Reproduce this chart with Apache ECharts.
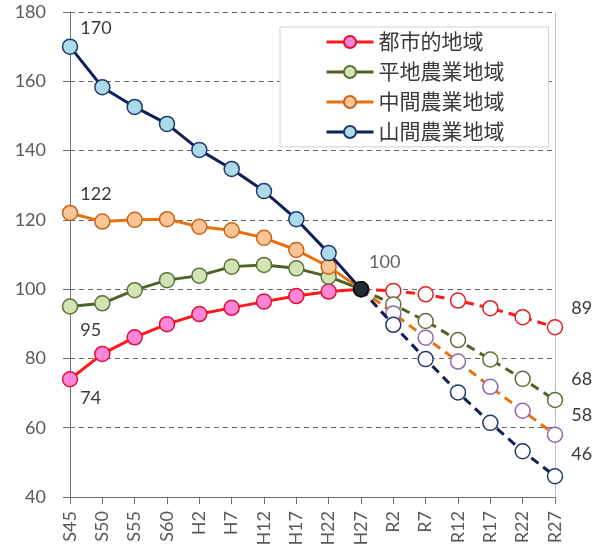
<!DOCTYPE html>
<html>
<head>
<meta charset="utf-8">
<script src="https://cdn.jsdelivr.net/npm/echarts@6/dist/echarts.min.js"></script>
<style>
  html, body { margin: 0; padding: 0; background: #fff; }
  #chart { width: 594px; height: 549px; }
</style>
</head>
<body>
<div id="chart"></div>
<script>
// Population index by region type (H27 = 100), actual and projected
const categories = ['S45','S50','S55','S60','H2','H7','H12','H17','H22','H27','R2','R7','R12','R17','R22','R27'];
const yTicks = { min: 40, max: 180, interval: 20 };

const regionNames = ['都市的地域', '平地農業地域', '中間農業地域', '山間農業地域'];

// S45 .. H27 (actual)
const urbanActual    = [74, 81.3, 86.1, 89.9, 92.8, 94.6, 96.4, 98.0, 99.3, 100];
const flatActual     = [95, 95.9, 99.7, 102.6, 103.9, 106.5, 107.0, 106.0, 103.6, 100];
const middleActual   = [122, 119.5, 120.0, 120.2, 118.0, 117.0, 114.8, 111.3, 106.5, 100];
const mountainActual = [170, 158.3, 152.6, 147.7, 140.2, 134.7, 128.3, 120.2, 110.4, 100];

// H27 .. R27 (projected)
const urbanProj    = [100, 99.5, 98.5, 96.7, 94.5, 91.9, 89];
const flatProj     = [100, 95.6, 90.8, 85.3, 79.7, 74.1, 68];
const middleProj   = [100, 93.0, 86.0, 79.1, 71.8, 64.9, 58];
const mountainProj = [100, 89.7, 79.8, 70.2, 61.4, 53.2, 46];

const baseYear = 'H27';
const baseValue = 100;

const FONT = 'Lato, "Noto Sans CJK JP", sans-serif';
const TEXT = '#3a3a3a';

const styles = [
  { line: '#FF1A1A', fill: '#FF85D8', edge: '#E0103A', projEdge: '#E02020' },
  { line: '#4F6228', fill: '#D4E3B5', edge: '#5B7335', projEdge: '#5B7335' },
  { line: '#E8700F', fill: '#FAC495', edge: '#C9651A', projEdge: '#8E6BB0' },
  { line: '#0F1F57', fill: '#ADDAE8', edge: '#1F3A6E', projEdge: '#1F3A6E' }
];

const actualSets = [urbanActual, flatActual, middleActual, mountainActual];
const projSets = [urbanProj, flatProj, middleProj, mountainProj];

// per-series label offsets for the first (S45) and last (R27) points
const firstLabelDy = [19, 24, -19, -18];
const lastLabelDy = [-19, -21, -19, -22];

const baseIdx = categories.indexOf(baseYear);
const nCat = categories.length;

function labelFor(dy, distance) {
  return {
    show: true,
    position: 'right',
    distance: distance,
    offset: [0, dy],
    fontFamily: FONT,
    fontSize: 18,
    color: TEXT,
    formatter: p => String(Math.round(p.value))
  };
}

const series = [];

actualSets.forEach((vals, i) => {
  const data = [];
  for (let k = 0; k < nCat; k++) {
    if (k < vals.length) {
      const item = { value: vals[k] };
      if (k === 0) item.label = labelFor(firstLabelDy[i], 2);
      data.push(item);
    } else data.push(null);
  }
  series.push({
    name: regionNames[i],
    type: 'line',
    data: data,
    symbol: 'circle',
    symbolSize: 15,
    z: 2 + i,
    lineStyle: { color: styles[i].line, width: 3 },
    itemStyle: { color: styles[i].fill, borderColor: styles[i].edge, borderWidth: 1.5 },
    emphasis: { disabled: true },
    animation: false
  });
});

projSets.forEach((vals, i) => {
  const data = [];
  for (let k = 0; k < nCat; k++) {
    const j = k - baseIdx;
    if (j >= 0 && j < vals.length) {
      const item = { value: vals[j] };
      if (j === 0) item.symbol = 'none';
      if (j === vals.length - 1) item.label = labelFor(lastLabelDy[i], 8);
      data.push(item);
    } else data.push(null);
  }
  series.push({
    name: regionNames[i] + '(推計)',
    type: 'line',
    data: data,
    symbol: 'circle',
    symbolSize: 15,
    z: 2 + i,
    lineStyle: { color: styles[i].line, width: 3, type: [9, 6] },
    itemStyle: { color: '#ffffff', borderColor: styles[i].projEdge, borderWidth: 1.5 },
    emphasis: { disabled: true },
    animation: false
  });
});

// common base point (H27 = 100)
series.push({
  name: '基準',
  type: 'scatter',
  data: categories.map(c => c === baseYear ? {
    value: baseValue,
    label: labelFor(-27, 0)
  } : null),
  symbol: 'circle',
  symbolSize: 15,
  z: 10,
  itemStyle: { color: '#000000', borderColor: '#000000', borderWidth: 1 },
  emphasis: { disabled: true },
  animation: false
});

const chart = echarts.init(document.getElementById('chart'), null, { renderer: 'canvas' });
chart.setOption({
  backgroundColor: '#ffffff',
  animation: false,
  grid: { left: 70, right: 39, top: 12, bottom: 52 },
  legend: {
    data: regionNames,
    orient: 'vertical',
    left: 280,
    top: 27,
    padding: [3, 44, 3, 45],
    itemGap: 6,
    itemWidth: 47,
    itemHeight: 15,
    backgroundColor: '#ffffff',
    borderColor: '#d0d0d0',
    borderWidth: 1,
    lineStyle: { width: 3 },
    textStyle: { fontFamily: FONT, fontSize: 21, color: TEXT, lineHeight: 24 }
  },
  xAxis: {
    type: 'category',
    data: categories,
    boundaryGap: false,
    axisLine: { lineStyle: { color: '#707070', width: 1 } },
    axisTick: { show: true, alignWithLabel: true, length: 7, lineStyle: { color: '#707070' } },
    axisLabel: {
      rotate: 90,
      margin: 14,
      fontFamily: FONT,
      fontSize: 18,
      color: '#595959',
      interval: 0
    },
    splitLine: { show: false }
  },
  yAxis: [{
    type: 'value',
    min: yTicks.min,
    max: yTicks.max,
    interval: yTicks.interval,
    axisLine: { show: true, lineStyle: { color: '#707070', width: 1 } },
    axisTick: { show: true, length: 7, lineStyle: { color: '#707070' } },
    axisLabel: { margin: 24, fontFamily: FONT, fontSize: 18, color: '#595959' },
    splitLine: { show: true, lineStyle: { color: '#666666', width: 1, type: [5, 4] } }
  }, {
    type: 'value',
    position: 'right',
    min: yTicks.min,
    max: yTicks.max,
    interval: yTicks.interval,
    axisLine: { show: true, lineStyle: { color: '#c4c4c4', width: 1 } },
    axisTick: { show: false },
    axisLabel: { show: false },
    splitLine: { show: false }
  }],
  tooltip: { show: false },
  series: series
});
</script>
</body>
</html>
